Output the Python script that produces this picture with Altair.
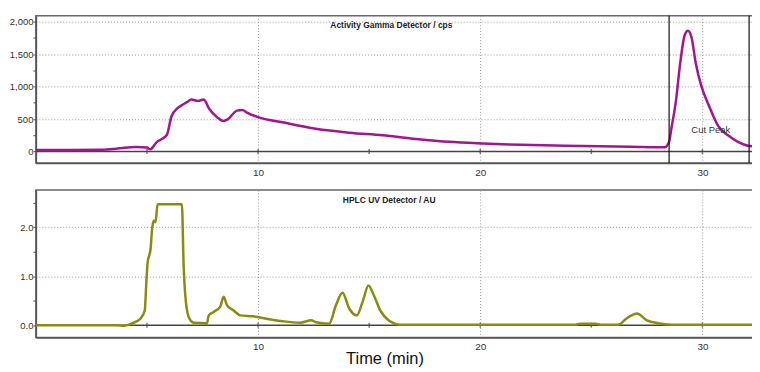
import altair as alt
import pandas as pd

# ---- data ----
gamma_t = [0, 1.5, 3.0, 3.6, 4.0, 4.5, 5.0, 5.15, 5.45, 5.7, 5.9, 6.1, 6.35, 6.6, 6.8, 7.0, 7.3, 7.55,
           7.8, 8.15, 8.45, 8.65, 9.05, 9.3, 9.5, 10.0, 11.1, 12.6, 14.1, 15.6, 17.1, 18.6, 20.1,
           21.3, 23.8, 26.8, 28.3, 28.5, 28.6, 28.8, 29.0, 29.2, 29.35, 29.5, 29.7, 29.95, 30.3,
           30.7, 31.15, 31.6, 32.05, 32.5]
gamma_v = [25, 25, 28, 45, 60, 70, 62, 35, 150, 200, 260, 540, 660, 720, 760, 800, 780, 800,
           660, 530, 470, 500, 630, 640, 600, 530, 450, 350, 290, 250, 195, 150, 125,
           110, 90, 75, 65, 150, 350, 760, 1360, 1790, 1860, 1770, 1360, 1010, 700,
           400, 250, 150, 90, 75]

uv_t = [0, 3.6, 4.0, 4.4, 4.7, 4.9, 4.98, 5.03, 5.16, 5.23, 5.3, 5.38, 5.48, 6.57, 6.65, 6.75,
        6.9, 7.1, 7.7, 7.78, 8.0, 8.3, 8.45, 8.6, 8.9, 9.2, 9.8, 10.5, 11.1, 11.9, 12.4, 12.6,
        13.2, 13.5, 13.8, 14.1, 14.45, 14.7, 14.97, 15.2, 15.5, 15.9, 16.4, 24.3, 24.5, 25.2,
        25.4, 26.2, 26.6, 27.05, 27.5, 28.0, 28.6, 32.5]
uv_v = [0, 0, -0.01, 0.05, 0.13, 0.3, 0.95, 1.28, 1.55, 1.96, 2.13, 2.1, 2.47, 2.47, 1.22, 0.48,
        0.14, 0.05, 0.04, 0.2, 0.27, 0.38, 0.58, 0.41, 0.3, 0.2, 0.18, 0.12, 0.08, 0.05, 0.1, 0.06,
        0.03, 0.4, 0.66, 0.34, 0.2, 0.47, 0.81, 0.62, 0.3, 0.09, 0.01, 0.01, 0.03, 0.03,
        0.01, 0.01, 0.14, 0.24, 0.1, 0.04, 0.01, 0.01]

x_ticks = [10, 20, 30]
minor_x = [5, 10, 15, 20, 25, 30]
cut_times = [28.5, 32.1]
gamma_y_ticks = [0, 250, 500, 750, 1000, 1250, 1500, 1750, 2000]
uv_y_ticks = [0, 0.5, 1.0, 1.5, 2.0, 2.5]
gamma_title = ["Activity Gamma Detector / cps"]
uv_title = ["HPLC UV Detector / AU"]
cut_label = ["Cut Peak"]

W, H = 725, 148
X_DOMAIN = [0, 32.5]
FONT = "Liberation Sans"
GRID = dict(gridDash=[1, 2], gridColor="#9a9a9a", gridWidth=1)


def make_x_axis(title=None, **kw):
    return alt.Axis(values=x_ticks, title=title, ticks=False, labelPadding=4, grid=True,
                    domainColor="#555", domainWidth=1.5, labelFontSize=10, labelColor="#333",
                    labelFont=FONT, labelOverlap=False, **GRID, **kw)


def make_y_axis(values, label_test, fmt):
    return alt.Axis(values=values, title=None, tickSize=3, tickColor="#555", labelPadding=0,
                    labelExpr=f"{label_test} ? format(datum.value, '{fmt}') : ''",
                    labelOverlap=False, grid=True,
                    gridOpacity={"condition": {"test": f"{label_test} && datum.value != 0", "value": 1}, "value": 0},
                    domainColor="#555", domainWidth=1.5, labelFontSize=9.5, labelColor="#333",
                    labelFont=FONT, **GRID)


def panel(df, color, ydomain, yvalues, test, fmt, title_text, title_x, title_y,
          cuts_df=None, cut_text_df=None, xtitle=None, xkw=None):
    xa = make_x_axis(xtitle, **(xkw or {}))
    ya = make_y_axis(yvalues, test, fmt)
    xs = alt.Scale(domain=X_DOMAIN, nice=False, zero=False)
    ys = alt.Scale(domain=ydomain, nice=False, zero=False)

    line = alt.Chart(df).mark_line(color=color, strokeWidth=2.5, interpolate="monotone", clip=True).encode(
        x=alt.X("t:Q", scale=xs, axis=xa), y=alt.Y("v:Q", scale=ys, axis=ya))
    zero = alt.Chart(pd.DataFrame({"z": [0]})).mark_rule(color="#444", strokeWidth=1.5).encode(
        y=alt.YDatum(0, scale=ys, axis=ya))
    ticks = alt.Chart(pd.DataFrame({"t": minor_x})).mark_tick(
        orient="vertical", size=5, thickness=1.5, color="#444").encode(
        x=alt.X("t:Q", scale=xs, axis=xa), y=alt.YDatum(0, scale=ys, axis=ya))
    ttl = alt.Chart(pd.DataFrame({"label": title_text})).mark_text(
        font=FONT, fontSize=8.5, fontWeight="bold", color="#222", baseline="middle").encode(
        x=alt.XDatum(title_x, scale=xs, axis=xa), y=alt.value(title_y), text="label:N")
    layers = [zero, ticks, line, ttl]
    if cuts_df is not None:
        layers.append(alt.Chart(cuts_df).mark_rule(color="#111", strokeWidth=1.2).encode(
            x=alt.X("t:Q", scale=xs, axis=xa)))
    if cut_text_df is not None:
        layers.append(alt.Chart(cut_text_df).mark_text(
            font=FONT, fontSize=9.5, color="#333", align="left", baseline="middle").encode(
            x=alt.XDatum(29.5, scale=xs, axis=xa), y=alt.YDatum(330, scale=ys, axis=ya), text="label:N"))
    return alt.layer(*layers).properties(width=W, height=H)


gamma_df = pd.DataFrame({"t": gamma_t, "v": gamma_v})
uv_df = pd.DataFrame({"t": uv_t, "v": uv_v})

top = panel(gamma_df, "#A0168F", [-177, 2090], gamma_y_ticks, "datum.value % 500 === 0", ",",
            gamma_title, 16.0, 9,
            cuts_df=pd.DataFrame({"t": cut_times}),
            cut_text_df=pd.DataFrame({"label": cut_label}))
bottom = panel(uv_df, "#8B8B10", [-0.25, 2.76], uv_y_ticks, "datum.value % 1 === 0", ".1f",
               uv_title, 15.9, 10, xtitle="Time (min)",
               xkw=dict(titleFont=FONT, titleFontSize=16.5, titleFontWeight="normal", titleColor="#111",
                        titleX=350, titleY=13))

chart = alt.vconcat(top, bottom, spacing=27, bounds="flush").properties(
    padding={"top": 5, "left": 0, "right": -8, "bottom": -2}
).configure_view(stroke="#666", strokeWidth=1.5)

chart.save("out.html", embed_options={"renderer": "svg", "actions": False})
